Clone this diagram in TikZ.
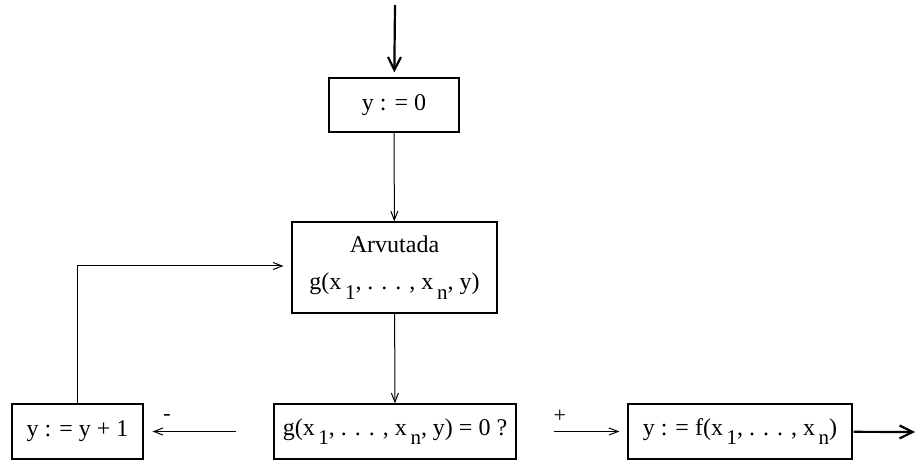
\documentclass[tikz,border=0pt]{standalone}
\usepackage{fontspec}
\setmainfont{Liberation Serif}
\usetikzlibrary{arrows.meta}
\newcommand{\lowsub}[1]{\kern.15em\raisebox{-.4em}{\fontsize{21}{21}\selectfont #1}}

\begin{document}
\begin{tikzpicture}[x=1pt,y=-1pt,
  box/.style={draw,line width=1.1pt,inner sep=0pt,align=center,font=\fontsize{24}{37}\selectfont},
  link/.style={-{Straight Barb[length=9pt,width=7pt]},line width=1pt},
  bold/.style={-{Straight Barb[length=13pt,width=13pt]},line width=2.2pt},
  sign/.style={font=\fontsize{22}{24}\selectfont}]
\useasboundingbox (0,0) rectangle (916,462);
\node[box,minimum width=130,minimum height=54] (init) at (394,105) {y : = 0};
\node[box,minimum width=205,minimum height=91] (calc) at (394.5,267.5)
  {Arvutada\\g(x\lowsub{1}, . . . , x\lowsub{n}, y)};
\node[box,minimum width=242,minimum height=55] (test) at (395,431.5)
  {g(x\lowsub{1}, . . . , x\lowsub{n}, y) = 0 ?};
\node[box,minimum width=131,minimum height=55] (incr) at (77.5,431.5) {y : = y + 1};
\node[box,minimum width=224,minimum height=55] (result) at (740,431.5)
  {y : = f(x\lowsub{1}, . . . , x\lowsub{n})};
\coordinate (in) at (395,5);
\coordinate (out) at (915,432);

\draw[bold,shorten >=5pt] (in) -- (init);
\draw[link] (init) -- (calc);
\draw[link] (calc) -- (test);
\draw[link,shorten <=37pt,shorten >=9pt] (test.west) -- (incr.east)
  node[sign,pos=.82,above=7pt] (minus) {-};
\draw[link,shorten <=37pt,shorten >=8pt] (test.east) -- (result.west)
  node[sign,pos=.39,above=5pt] (plus) {+};
\draw[link,shorten >=8pt] (incr.north) |- ([yshift=1.5pt]calc.west);
\draw[bold,shorten <=1pt] (result) -- (out);
\end{tikzpicture}
\end{document}
